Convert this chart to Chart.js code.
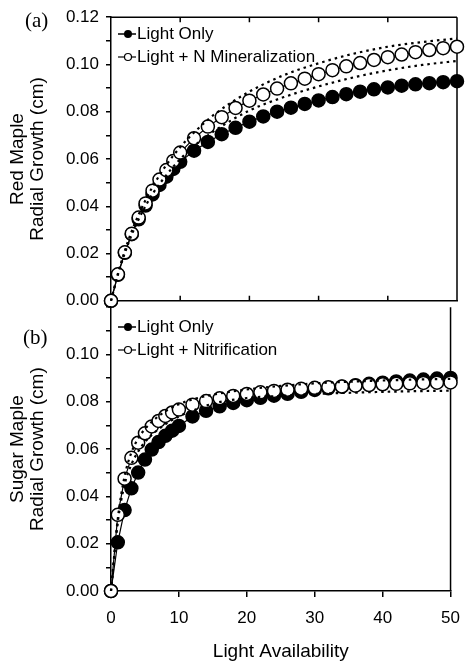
<!DOCTYPE html>
<html>
<head>
<meta charset="utf-8">
<script src="https://cdn.jsdelivr.net/npm/chart.js@4.4.1/dist/chart.umd.min.js"></script>
<style>
  html, body { margin: 0; padding: 0; background: #fff; }
  #wrap { position: relative; width: 468px; height: 663px; overflow: hidden; color: #000;
          font-family: "Liberation Sans", Arial, sans-serif; }
  canvas { position: absolute; left: 0; }
  #chart-top { top: 0; }
  #chart-bot { top: 290px; }
  .panel { position: absolute; font-family: "Liberation Serif", "Times New Roman", serif;
           font-size: 21px; line-height: 1; }
  .legend { position: absolute; left: 118px; font-size: 17px; }
  .legend div { display: flex; align-items: center; height: 23px; white-space: nowrap; }
  .legend svg { margin-right: 1px; }
</style>
</head>
<body>
<div id="wrap">
  <canvas id="chart-top" width="468" height="318"></canvas>
  <canvas id="chart-bot" width="468" height="373"></canvas>
  <div class="panel" style="left:25px;top:10px">(a)</div>
  <div class="panel" style="left:23px;top:327px">(b)</div>
  <div class="legend" style="top:22px">
    <div><svg width="18" height="12"><line x1="0" y1="6" x2="18" y2="6" stroke="#000" stroke-width="1.5"/><circle cx="10" cy="6" r="4" fill="#000"/></svg>Light Only</div>
    <div><svg width="18" height="12"><line x1="0" y1="6" x2="18" y2="6" stroke="#000" stroke-width="1.2"/><circle cx="10" cy="6" r="3.5" fill="#fff" stroke="#000" stroke-width="1.2"/></svg>Light + N Mineralization</div>
  </div>
  <div class="legend" style="top:315px">
    <div><svg width="18" height="12"><line x1="0" y1="6" x2="18" y2="6" stroke="#000" stroke-width="1.5"/><circle cx="10" cy="6" r="4" fill="#000"/></svg>Light Only</div>
    <div><svg width="18" height="12"><line x1="0" y1="6" x2="18" y2="6" stroke="#000" stroke-width="1.2"/><circle cx="10" cy="6" r="3.5" fill="#fff" stroke="#000" stroke-width="1.2"/></svg>Light + Nitrification</div>
  </div>
</div>
<script>
  // light availability levels (x) for the model points
  const lightX = [0, 1, 2, 3, 4, 5, 6, 7, 8, 9, 10, 12, 14, 16, 18, 20, 22, 24, 26, 28, 30,
                  32, 34, 36, 38, 40, 42, 44, 46, 48, 50];

  // (a) red maple radial growth (cm)
  const redLightOnly = [0, 0.0110, 0.0203, 0.0282, 0.0345, 0.0403, 0.0450, 0.0490, 0.0525, 0.0558, 0.0588,
                        0.0635, 0.0672, 0.0705, 0.0732, 0.0758, 0.0780, 0.0800, 0.0817, 0.0833, 0.0848,
                        0.0862, 0.0874, 0.0885, 0.0895, 0.0903, 0.0910, 0.0916, 0.0921, 0.0925, 0.0929];
  const redLightN = [0, 0.0112, 0.0205, 0.0284, 0.0352, 0.0412, 0.0466, 0.0513, 0.0553, 0.0592, 0.0627,
                     0.0688, 0.0737, 0.0777, 0.0816, 0.0847, 0.0873, 0.0898, 0.0920, 0.0940, 0.0959,
                     0.0976, 0.0992, 0.1006, 0.1019, 0.1031, 0.1042, 0.1052, 0.1061, 0.1069, 0.1075];

  // (b) sugar maple radial growth (cm)
  const sugarLightOnly = [0, 0.0206, 0.0342, 0.0434, 0.0501, 0.0556, 0.0598, 0.0630, 0.0656, 0.0678, 0.0698,
                          0.0738, 0.0762, 0.0781, 0.0795, 0.0807, 0.0817, 0.0826, 0.0834, 0.0842, 0.0850,
                          0.0857, 0.0864, 0.0870, 0.0876, 0.0881, 0.0886, 0.0890, 0.0894, 0.0898, 0.0901];
  const sugarLightNitr = [0, 0.0322, 0.0475, 0.0563, 0.0627, 0.0667, 0.0696, 0.0719, 0.0740, 0.0755, 0.0767,
                          0.0788, 0.0803, 0.0815, 0.0825, 0.0833, 0.0840, 0.0846, 0.0851, 0.0855, 0.0859,
                          0.0862, 0.0865, 0.0868, 0.0871, 0.0874, 0.0876, 0.0878, 0.0880, 0.0881, 0.0882];

  // dotted bounds around the light + soil N curves
  const bandX = [0, 1, 2, 3, 4, 5, 6, 8, 10, 12, 15, 20, 25, 30, 35, 40, 45, 50];
  const redUpper = [0, 0.0115, 0.0212, 0.0295, 0.0365, 0.0427, 0.0482, 0.0575, 0.0650, 0.0712, 0.0790,
                    0.0885, 0.0955, 0.1005, 0.1045, 0.1075, 0.1095, 0.1110];
  const redLower = [0, 0.0110, 0.0202, 0.0280, 0.0345, 0.0402, 0.0452, 0.0532, 0.0600, 0.0655, 0.0720,
                    0.0805, 0.0862, 0.0907, 0.0945, 0.0975, 0.0998, 0.1015];
  const sugarUpper = [0, 0.0305, 0.0485, 0.0585, 0.0645, 0.0685, 0.0715, 0.0760, 0.0790, 0.0810, 0.0830,
                      0.0852, 0.0867, 0.0878, 0.0885, 0.0890, 0.0894, 0.0897];
  const sugarLower = [0, 0.0290, 0.0450, 0.0535, 0.0590, 0.0630, 0.0660, 0.0705, 0.0738, 0.0762, 0.0792,
                      0.0816, 0.0825, 0.0833, 0.0838, 0.0842, 0.0845, 0.0847];

  const FONT = '"Liberation Sans", Arial, sans-serif';
  const pts = (xs, ys) => xs.map((x, i) => ({ x, y: ys[i] }));

  // box edges + inward ticks, drawn under the markers
  const framePlugin = {
    id: 'frame',
    beforeDatasetsDraw(chart, args, opts) {
      const { ctx, chartArea: a } = chart;
      const x = chart.scales.x;
      ctx.save();
      ctx.strokeStyle = '#000';
      ctx.lineWidth = 1.5;
      ctx.beginPath();
      if (opts.top) { ctx.moveTo(a.left, a.top); ctx.lineTo(a.right, a.top); }
      ctx.moveTo(a.right, a.top);
      ctx.lineTo(a.right, a.bottom);
      x.ticks.forEach(t => {
        if (t.value <= x.min || t.value >= x.max) return;
        const px = x.getPixelForValue(t.value);
        if (opts.top) { ctx.moveTo(px, a.top); ctx.lineTo(px, a.top + 5); }
        if (opts.bottom) { ctx.moveTo(px, a.bottom); ctx.lineTo(px, a.bottom - 5); }
      });
      ctx.stroke();
      ctx.restore();
    }
  };

  function bandSet(data) {
    return {
      data, borderColor: '#000', borderWidth: 2.2, borderDash: [2.5, 4], pointRadius: 0,
      cubicInterpolationMode: 'monotone', fill: false, clip: false
    };
  }

  function markSet(data, filled) {
    return {
      data, borderColor: '#000', borderWidth: 1.2, tension: 0, fill: false, clip: false,
      pointRadius: 6.5, pointBorderWidth: 1.5, pointBorderColor: '#000',
      pointBackgroundColor: filled ? '#000' : '#fff'
    };
  }

  function yLabel(hideTop) {
    return v => {
      const h = Math.round(v * 100);
      if (h % 2) return '';
      if (hideTop && h === 12) return '';
      return (h / 100).toFixed(2);
    };
  }

  function yScale(titleLines, hideTop) {
    return {
      min: 0, max: 0.12,
      afterFit: s => { s.width = 111; },
      border: { color: '#000', width: 1.5 },
      grid: { drawOnChartArea: false, drawTicks: true, tickLength: 5, color: '#000', lineWidth: 1.5 },
      ticks: { stepSize: 0.01, padding: 7, color: '#000', font: { family: FONT, size: 17 },
               callback: yLabel(hideTop) },
      title: { display: true, text: titleLines, color: '#000', padding: { top: 8, bottom: 0 },
               font: { family: FONT, size: 19, lineHeight: 1.05 } }
    };
  }

  const baseOpts = {
    responsive: false,
    animation: false,
    events: [],
    plugins: { legend: { display: false }, tooltip: { enabled: false } }
  };

  new Chart(document.getElementById('chart-top'), {
    type: 'line',
    data: {
      datasets: [
        bandSet(pts(bandX, redUpper)),
        bandSet(pts(bandX, redLower)),
        markSet(pts(lightX, redLightN), false),
        markSet(pts(lightX, redLightOnly), true)
      ]
    },
    options: {
      ...baseOpts,
      layout: { padding: { top: 16, right: 11, left: 0, bottom: 0 } },
      plugins: { ...baseOpts.plugins, frame: { top: true, bottom: true } },
      scales: {
        x: {
          type: 'linear', min: 0, max: 50,
          afterFit: s => { s.height = 16; },
          border: { color: '#000', width: 1.5 },
          grid: { display: false },
          ticks: { display: false, stepSize: 10 }
        },
        y: yScale(['Red Maple', 'Radial Growth (cm)'], false)
      }
    },
    plugins: [framePlugin]
  });

  new Chart(document.getElementById('chart-bot'), {
    type: 'line',
    data: {
      datasets: [
        bandSet(pts(bandX, sugarUpper)),
        bandSet(pts(bandX, sugarLower)),
        markSet(pts(lightX, sugarLightNitr), false),
        markSet(pts(lightX, sugarLightOnly), true)
      ]
    },
    options: {
      ...baseOpts,
      layout: { padding: { top: 15, right: 11, left: 0, bottom: 0 } },
      plugins: { ...baseOpts.plugins, frame: { top: false, bottom: false } },
      scales: {
        x: {
          type: 'linear', min: 0, max: 50,
          afterFit: s => { s.height = 72; },
          border: { color: '#000', width: 1.5 },
          grid: { drawOnChartArea: false, tickLength: 6, color: '#000', lineWidth: 1.5 },
          ticks: { stepSize: 10, padding: 8, maxRotation: 0, color: '#000',
                   font: { family: FONT, size: 17, lineHeight: 1.55 } },
          title: { display: true, text: 'Light Availability', color: '#000',
                   padding: { top: 0, bottom: 0 }, font: { family: FONT, size: 19 } }
        },
        y: yScale(['Sugar Maple', 'Radial Growth (cm)'], true)
      }
    },
    plugins: [framePlugin]
  });
</script>
</body>
</html>
